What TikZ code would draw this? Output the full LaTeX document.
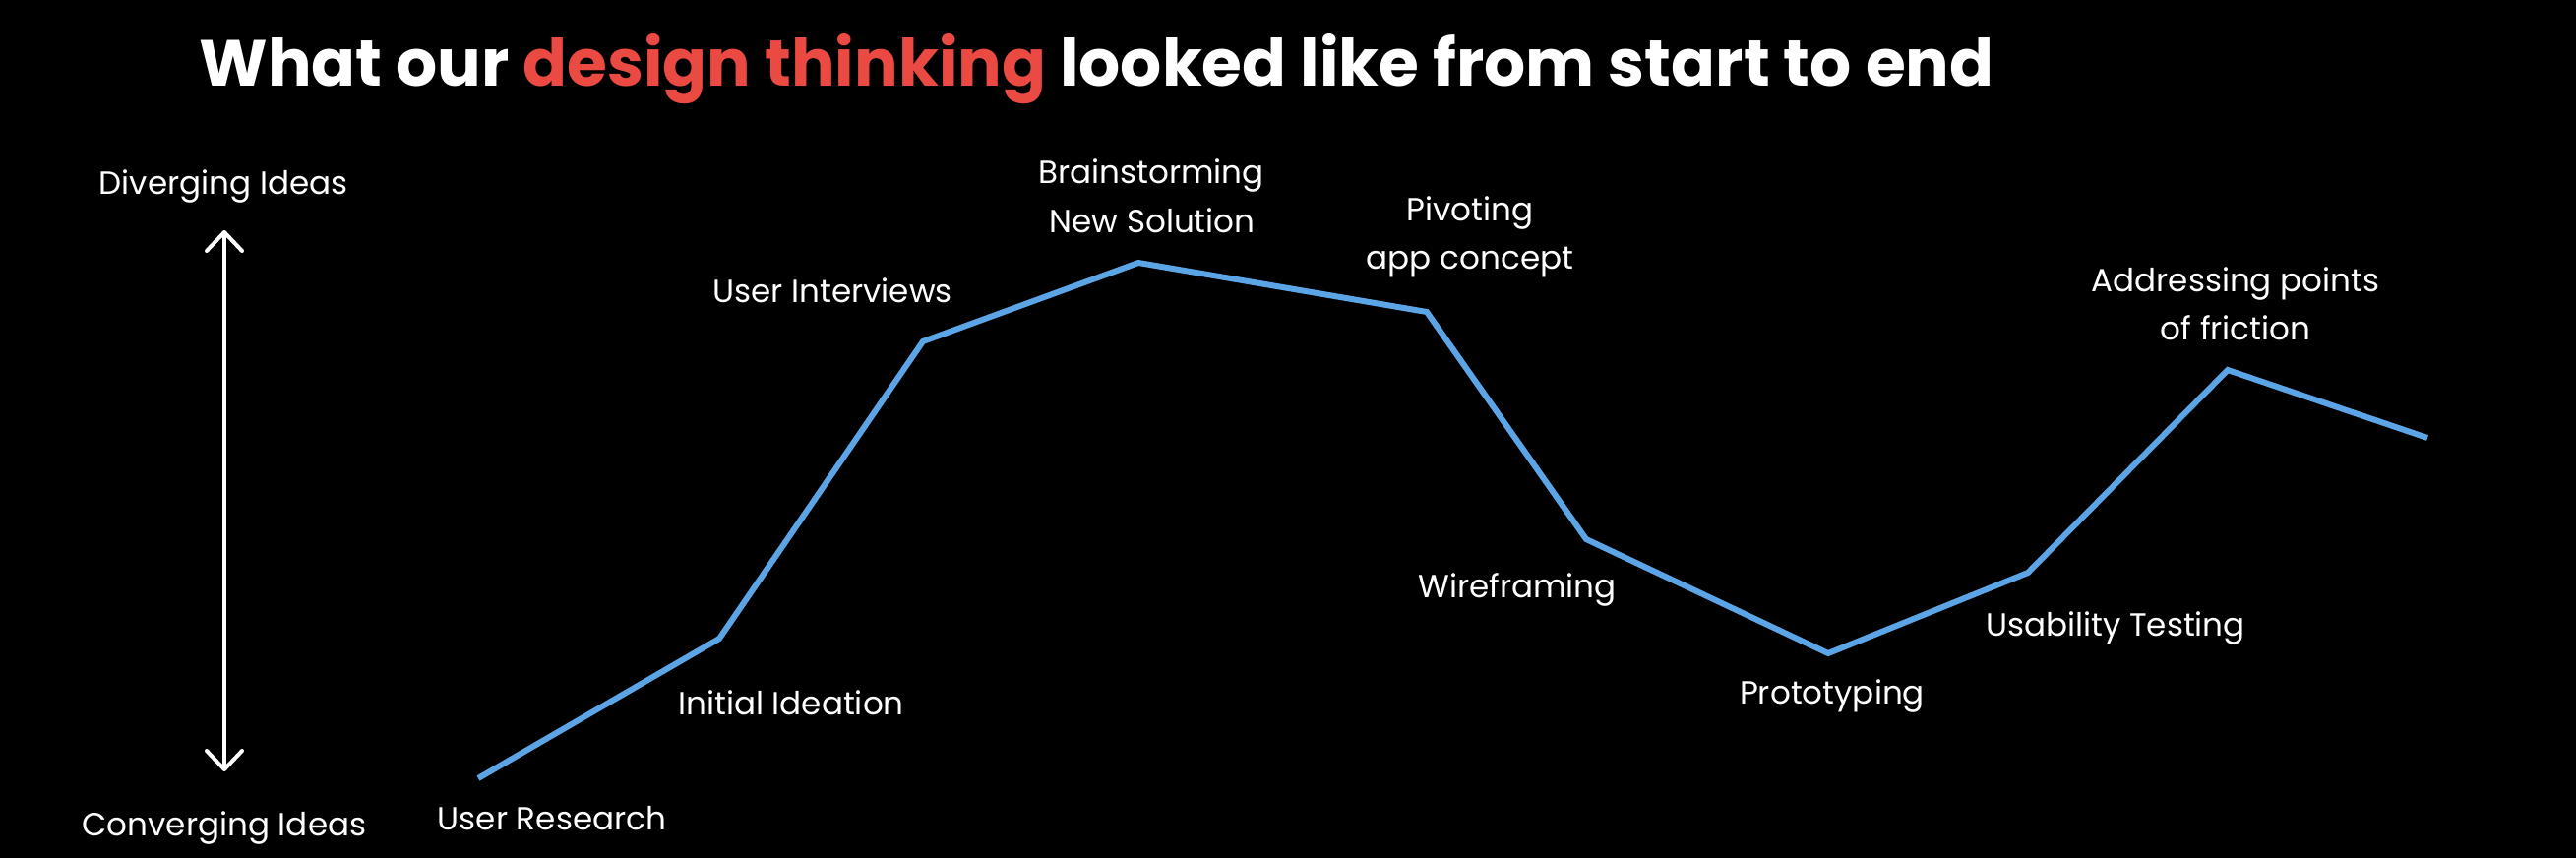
\documentclass[tikz,border=0pt]{standalone}
\usepackage{fontspec}
\setmainfont{Poppins}
\newfontfamily\titlefont{Poppins}
\usetikzlibrary{arrows.meta}
\definecolor{lineblue}{HTML}{5BA4E5}
\definecolor{titlered}{HTML}{EA4A42}
\tikzset{
  lbl/.style={text=white, anchor=base, inner sep=0pt, font=\fontsize{16.3pt}{19pt}\selectfont},
  curve/.style={draw=lineblue, line width=3pt},
  axisarrow/.style={draw=white, line width=2pt, line cap=round,
    {Straight Barb[length=9.5pt, width=18pt, line cap=round, line join=round]}-{Straight Barb[length=9.5pt, width=18pt, line cap=round, line join=round]}},
}
\begin{document}
\begin{tikzpicture}[x=0.5pt, y=-0.5pt]
\fill[black] (0,0) rectangle (2618,872);
\useasboundingbox (0,0) rectangle (2618,872);
% title
\node[anchor=base west, inner sep=0pt, text=white, font=\titlefont\bfseries\fontsize{33.1pt}{38pt}\selectfont] (title) at (202,88)
  {What our \textcolor{titlered}{design thinking} looked like from start to end};
% axis
\node[lbl] (div) at (227,198) {Diverging Ideas};
\node[lbl] (conv) at (228,849) {Converging Ideas};
\coordinate (atop) at (228,234);
\coordinate (abot) at (228,784);
\draw[axisarrow] (abot) -- (atop);
% curve points
\coordinate (p0) at (486,791);
\coordinate (p1) at (731,649);
\coordinate (p2) at (938,347);
\coordinate (p3) at (1157,267);
\coordinate (p4) at (1450,317);
\coordinate (p5) at (1612,548);
\coordinate (p6) at (1858,664);
\coordinate (p7) at (2061,582);
\coordinate (p8) at (2264,376);
\coordinate (p9) at (2467,445);
\draw[curve] (p0) -- (p1) -- (p2) -- (p3) -- (p4) -- (p5) -- (p6) -- (p7) -- (p8) -- (p9);
% labels
\node[lbl] (l0) at (561,843) {User Research};
\node[lbl] (l1) at (804,726) {Initial Ideation};
\node[lbl] (l2) at (846,307) {User Interviews};
\node[lbl] (l3a) at (1170,186) {Brainstorming};
\node[lbl] (l3b) at (1171,236) {New Solution};
\node[lbl] (l4a) at (1494,224) {Pivoting};
\node[lbl] (l4b) at (1494,273) {app concept};
\node[lbl] (l5) at (1542,607) {Wireframing};
\node[lbl] (l6) at (1862,715) {Prototyping};
\node[lbl] (l7) at (2150,646) {Usability Testing};
\node[lbl] (l8a) at (2272,296) {Addressing points};
\node[lbl] (l8b) at (2272,345) {of friction};
\end{tikzpicture}
\end{document}
